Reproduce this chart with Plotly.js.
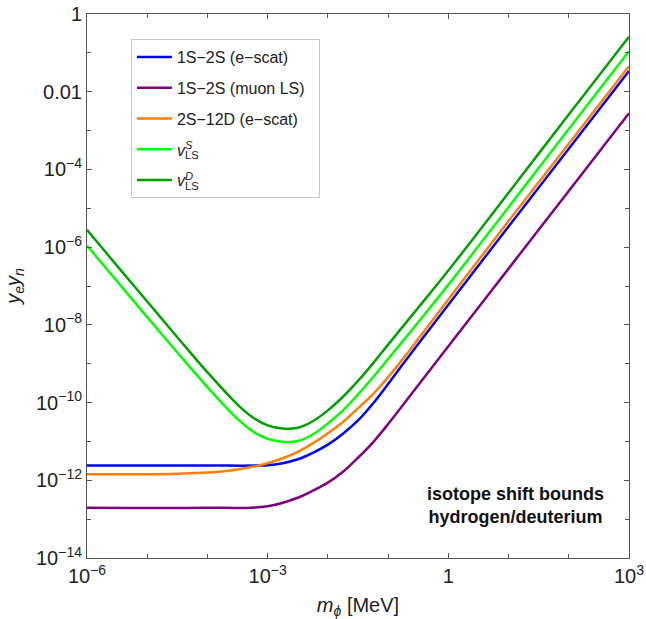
<!DOCTYPE html>
<html>
<head>
<meta charset="utf-8">
<script src="https://cdn.plot.ly/plotly-3.0.1.min.js"></script>
<style>html,body{margin:0;padding:0;background:#fff;}#chart{width:646px;height:619px;}</style>
</head>
<body>
<div id="chart"></div>
<script>
// Series names (legend)
var seriesNames = [
  "1S\u22122S (e\u2212scat)",
  "1S\u22122S (muon LS)\u00A0\u00A0",
  "2S\u221212D (e\u2212scat)",
  "<i>v</i><sup><span style=\"letter-spacing:-7.4px\"><i>S</i></span></sup><sub>LS</sub>",
  "<i>v</i><sup><span style=\"letter-spacing:-8px\"><i>D</i></span></sup><sub>LS</sub>"
];

// 1S-2S (e-scat), blue
var blueX = [1e-6, 1e-5, 1e-4, 1e-3, 1.78e-3, 3.16e-3, 5.62e-3, 1e-2, 1.78e-2, 3.16e-2, 5.62e-2, 0.1, 0.178, 0.316, 1, 10, 100, 1000];
var blueY = [2.4e-12, 2.4e-12, 2.4e-12, 2.45e-12, 2.75e-12, 3.47e-12, 5.1e-12, 8.3e-12, 1.58e-11, 3.47e-11, 9.5e-11, 3.0e-10, 1.0e-9, 3.2e-9, 3.3e-8, 3.4e-6, 3.4e-4, 0.034];

// 1S-2S (muon LS), purple
var purpleX = [1e-6, 1e-4, 1e-3, 3.16e-3, 5.62e-3, 1e-2, 1.78e-2, 3.16e-2, 5.62e-2, 0.1, 0.316, 1, 10, 100, 1000];
var purpleY = [1.95e-13, 1.95e-13, 2.14e-13, 3.55e-13, 5.4e-13, 8.7e-13, 1.66e-12, 3.8e-12, 9.5e-12, 2.8e-11, 2.8e-10, 2.8e-9, 2.8e-7, 2.8e-5, 2.8e-3];

// 2S-12D (e-scat), orange
var orangeX = [1e-6, 1e-5, 3.16e-5, 1e-4, 3.16e-4, 1e-3, 1.78e-3, 3.16e-3, 5.62e-3, 1e-2, 1.78e-2, 3.16e-2, 5.62e-2, 0.1, 0.178, 0.316, 1, 10, 100, 1000];
var orangeY = [1.44e-12, 1.44e-12, 1.48e-12, 1.58e-12, 1.9e-12, 2.75e-12, 3.7e-12, 5.4e-12, 8.9e-12, 1.62e-11, 3.16e-11, 7.1e-11, 1.66e-10, 4.5e-10, 1.35e-9, 4.3e-9, 4.5e-8, 4.7e-6, 4.6e-4, 0.045];

// shared mass grid for the two v_LS curves
var greenX = [1e-6, 3.16e-6, 1e-5, 3.16e-5, 1e-4, 3.16e-4, 5.62e-4, 1e-3, 1.78e-3, 3.16e-3, 5.62e-3, 1e-2, 1.78e-2, 3.16e-2, 5.62e-2, 0.1, 0.316, 1, 10, 100, 1000];
// v_LS^S, light green
var lgreenY = [1.1e-6, 1.32e-7, 1.58e-8, 1.95e-9, 2.5e-10, 3.8e-11, 1.82e-11, 1.17e-11, 9.8e-12, 1.02e-11, 1.51e-11, 2.9e-11, 6.3e-11, 1.62e-10, 4.5e-10, 1.32e-9, 1.17e-8, 1.07e-7, 1.07e-5, 1.1e-3, 0.11];
// v_LS^D, dark green
var dgreenY = [2.8e-6, 3.3e-7, 4.0e-8, 4.8e-9, 6.0e-10, 8.9e-11, 4.2e-11, 2.6e-11, 2.14e-11, 2.24e-11, 3.3e-11, 6.3e-11, 1.41e-10, 3.6e-10, 1.02e-9, 3.1e-9, 2.75e-8, 2.5e-7, 2.5e-5, 2.6e-3, 0.26];

// Tick labels
var xTickVals = [1e-6, 1e-3, 1, 1e3];
var xTickText = ["10<sup>\u22126</sup>", "10<sup>\u22123</sup>", "1", "10<sup>3</sup>"];
var xMinorVals = [1e-5, 1e-4, 1e-2, 1e-1, 10, 100];
var yTickVals = [1, 1e-2, 1e-4, 1e-6, 1e-8, 1e-10, 1e-12, 1e-14];
var yTickText = ["1", "0.01", "10<sup>\u22124</sup>", "10<sup>\u22126</sup>", "10<sup>\u22128</sup>", "10<sup>\u221210</sup>", "10<sup>\u221212</sup>", "10<sup>\u221214</sup>"];
var yMinorVals = [1e-1, 1e-3, 1e-5, 1e-7, 1e-9, 1e-11, 1e-13];

var colors = ["#0000ff", "#800080", "#ff8000", "#00ff00", "#00a000"];
var xs = [blueX, purpleX, orangeX, greenX, greenX];
var ys = [blueY, purpleY, orangeY, lgreenY, dgreenY];

var traces = xs.map(function (x, i) {
  return {
    x: x, y: ys[i], name: seriesNames[i], type: "scatter", mode: "lines",
    legendgroup: "g" + i,
    line: {color: colors[i], width: 2.5, shape: "spline", smoothing: 1}
  };
});

var font = "Liberation Sans, Arial, sans-serif";
var axisCommon = {
  type: "log", showgrid: false, zeroline: false, showline: true,
  linecolor: "#555", linewidth: 1, mirror: "ticks",
  ticks: "inside", ticklen: 5, tickcolor: "#555", tickwidth: 1,
  tickmode: "array",
  tickfont: {family: font, size: 20, color: "#222"}
};

var layout = {
  width: 646, height: 619,
  margin: {l: 87, r: 17, t: 14, b: 61},
  paper_bgcolor: "#fff", plot_bgcolor: "#fff",
  showlegend: true,
  font: {family: font, color: "#222"},
  xaxis: Object.assign({}, axisCommon, {
    range: [-6, 3], tickvals: xTickVals, ticktext: xTickText,
    minor: {tickmode: "array", tickvals: xMinorVals, ticks: "inside", ticklen: 4, tickcolor: "#555", showgrid: false},
    title: {text: "<i>m</i><sub><i>\u03D5</i></sub> [MeV]", font: {family: font, size: 20, color: "#222"}, standoff: 11}
  }),
  yaxis: Object.assign({}, axisCommon, {
    range: [-14, 0], tickvals: yTickVals, ticktext: yTickText,
    minor: {tickmode: "array", tickvals: yMinorVals, ticks: "inside", ticklen: 4, tickcolor: "#555", showgrid: false},
    title: {text: "<i>y</i><sub><i>e</i></sub><i>y</i><sub><i>n</i></sub>", font: {family: font, size: 20, color: "#222"}, standoff: 10}
  }),
  legend: {
    x: 0.081, y: 0.954, xanchor: "left", yanchor: "top",
    bgcolor: "#fff", bordercolor: "#c8c8c8", borderwidth: 1,
    font: {family: font, size: 16, color: "#222"},
    tracegroupgap: 7, itemwidth: 35
  },
  annotations: [{
    xref: "paper", yref: "paper", x: 0.79, y: 0.097, xanchor: "center", yanchor: "middle",
    text: "<b>isotope shift bounds</b><br><b>hydrogen/deuterium</b>",
    showarrow: false, align: "center",
    font: {family: font, size: 18, color: "#111"}
  }]
};

Plotly.newPlot("chart", traces, layout, {displayModeBar: false, staticPlot: true});
</script>
</body>
</html>
